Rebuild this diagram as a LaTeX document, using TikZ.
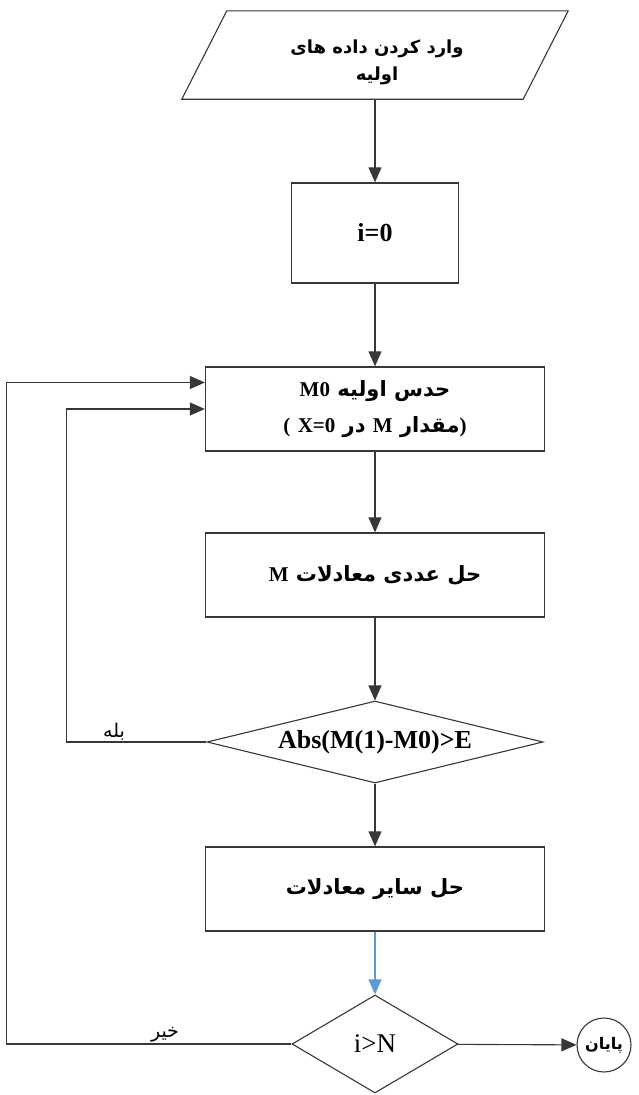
\documentclass[tikz,border=0pt]{standalone}
\usepackage{fontspec}
\setmainfont{Liberation Serif}
\newfontfamily\fafont[Script=Arabic]{DejaVu Sans}
\TeXXeTstate=1
\usetikzlibrary{arrows.meta,shapes.geometric}
\definecolor{edgegray}{RGB}{55,55,55}
\definecolor{flowblue}{RGB}{91,155,213}
% persian line, latin piece inside it
\newcommand\fa[1]{{\fafont\beginR #1\endR}}
\newcommand\la[1]{\beginL{\rmfamily #1}\endL{}}

\begin{document}
\begin{tikzpicture}[x=1pt,y=-1pt,
  box/.style={draw=edgegray, line width=1.3pt, fill=white, inner sep=0pt, align=center,
    minimum width=#1, minimum height=84pt, font=\fontsize{21}{36}\selectfont\bfseries},
  box/.default=339pt,
  decision/.style={diamond, draw=edgegray, line width=1.1pt, inner sep=0pt},
  arr/.style={draw=edgegray, line width=1.1pt, -{Triangle[length=15pt,width=13pt]}},
  lbl/.style={font=\fontsize{19}{21}\selectfont, inner sep=1pt, anchor=south}]
\useasboundingbox (0,0) rectangle (638,1095);

% input parallelogram
\node[minimum width=341pt, minimum height=88pt, inner sep=0pt] (input) at (375,55) {};
\draw[edgegray, line width=1.1pt] ([xshift=22.5pt]input.north west) -- ([xshift=22.5pt]input.north east)
  -- ([xshift=-22.5pt]input.south east) -- ([xshift=-22.5pt]input.south west) -- cycle;
\node[align=center, font=\fontsize{18}{27}\selectfont\bfseries] (inputtxt) at (377,62)
  {\fa{وارد کردن داده های}\\ \fa{اولیه}};
\node[box=167pt, minimum height=100pt, font=\fontsize{26}{30}\selectfont\bfseries] (init) at (375,233) {i=0};
\node[box] (guess) at (375,409) {\fa{حدس اولیه \la{M0}}\\ \fa{\la{)}مقدار \la{M} در \la{X=0} \la{(}}};
\node[box] (solve) at (375,575) {\fa{حل عددی معادلات \la{M}}};
\node[decision, minimum width=336pt, minimum height=82pt, aspect=4.1,
  font=\fontsize{26}{30}\selectfont\bfseries] (cond1) at (375,742) {Abs(M(1)-M0)>E};
\node[box] (rest) at (375,889) {\fa{حل سایر معادلات}};
\node[decision, minimum width=166pt, minimum height=98pt, aspect=1.7,
  font=\fontsize{27}{30}\selectfont] (cond2) at (375,1044) {i>N};
\node[circle, draw=edgegray, line width=1.1pt, minimum size=54pt, inner sep=0pt,
  font=\fontsize{16}{18}\selectfont\bfseries] (end) at (604,1045) {\fa{پایان}};

\foreach \a/\b in {input/init, init/guess, guess/solve, solve/cond1, cond1/rest}
  \draw[arr] (\a) -- (\b);
\draw[arr, draw=flowblue, fill=flowblue] (rest) -- (cond2);
\draw[arr] (cond2) -- (end);

% loops back to the guess
\draw[arr] (cond1.west) -- ++(-140,0) |- (guess.west);
\draw[arr] (cond2.west) -- ++(-285,0) |- ([yshift=26.5pt]guess.west);
\node[lbl] (yes) at (114,741) {\fa{بله}};
\node[lbl] (no) at (165,1043) {\fa{خیر}};
\end{tikzpicture}
\end{document}
